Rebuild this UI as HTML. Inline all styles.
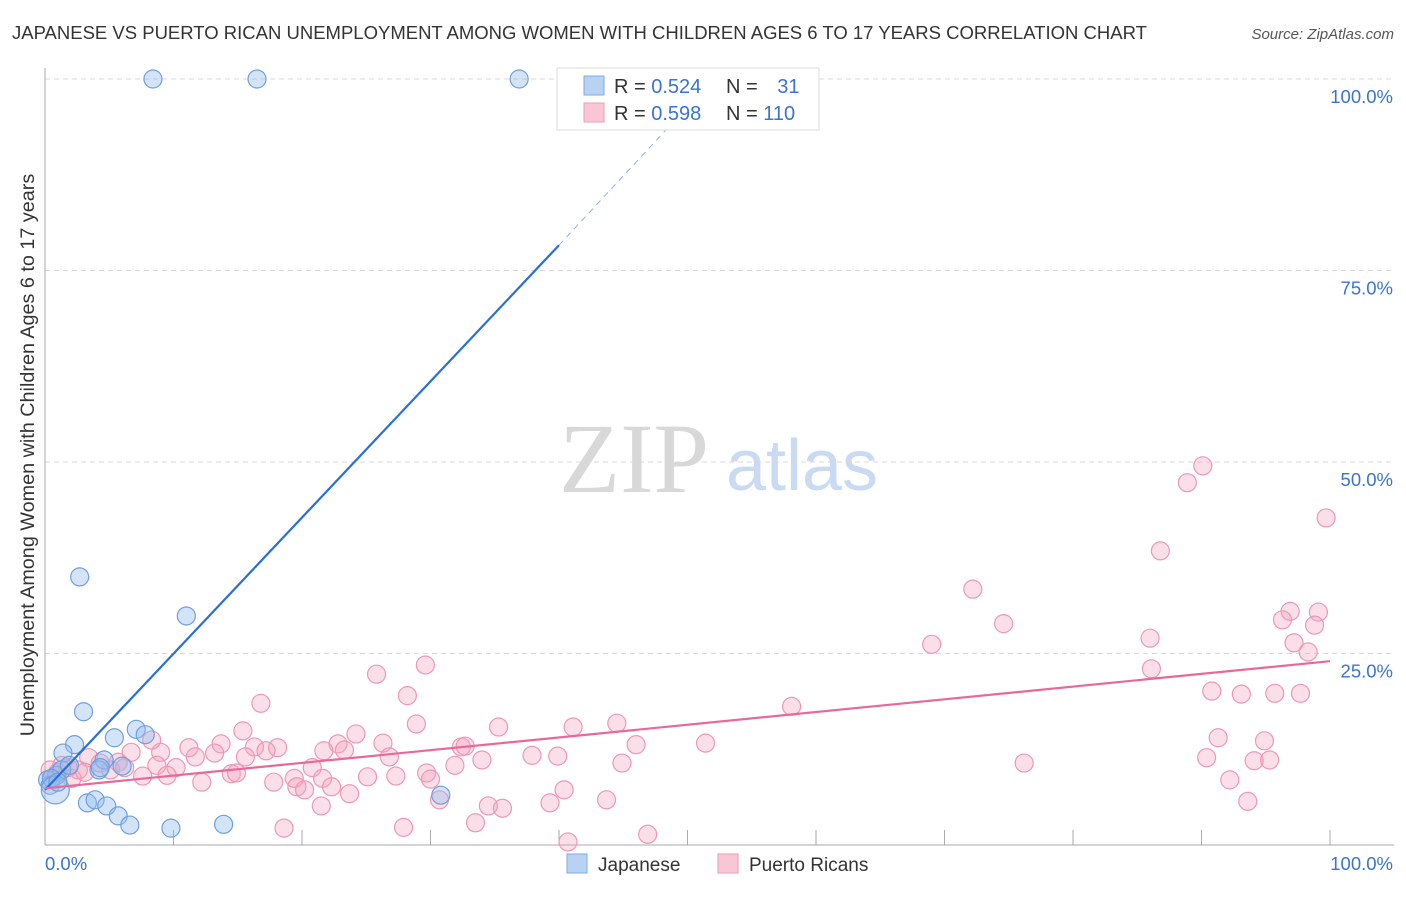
<!DOCTYPE html>
<html><head><meta charset="utf-8"><style>
body{margin:0;background:#fff;font-family:"Liberation Sans",sans-serif;}
svg text{font-family:"Liberation Sans",sans-serif;}
</style></head><body>
<svg id="c" width="1406" height="892" xmlns="http://www.w3.org/2000/svg">
<text x="12" y="39" font-size="18.5" fill="#333">JAPANESE VS PUERTO RICAN UNEMPLOYMENT AMONG WOMEN WITH CHILDREN AGES 6 TO 17 YEARS CORRELATION CHART</text>
<text x="1394" y="39" font-size="15" fill="#555" font-style="italic" text-anchor="end">Source: ZipAtlas.com</text>
<g>
<text x="634" y="492" font-size="100" fill="#d8d8d8" text-anchor="middle" style="font-family:'Liberation Serif',serif">ZIP</text>
<text x="802" y="490" font-size="72" fill="#c9daf2" text-anchor="middle">atlas</text>
</g>
<g id="grid"></g>
<g id="axes"></g>
<g id="marks"></g>
<text transform="translate(34,455) rotate(-90)" font-size="19.8" fill="#333" text-anchor="middle">Unemployment Among Women with Children Ages 6 to 17 years</text>
<g>
<rect x="557" y="68" width="262" height="62" fill="#fff" stroke="#ddd"/>
<rect x="584" y="76" width="20" height="19" fill="#b8d2f4" stroke="#7ea9e2"/>
<rect x="584" y="103" width="20" height="19" fill="#f8c6d5" stroke="#ee9db6"/>
<text x="614" y="93" font-size="20" fill="#333">R = <tspan fill="#3a74cc">0.524</tspan></text>
<text x="726" y="93" font-size="20" fill="#333">N = <tspan fill="#3a74cc" dx="14">31</tspan></text>
<text x="614" y="120" font-size="20" fill="#333">R = <tspan fill="#3a74cc">0.598</tspan></text>
<text x="726" y="120" font-size="20" fill="#333">N = <tspan fill="#3a74cc">110</tspan></text>
</g>
<g>
<rect x="567" y="854" width="20" height="19" fill="#b8d2f4" stroke="#7ea9e2"/>
<text x="598" y="871" font-size="19" fill="#333">Japanese</text>
<rect x="718" y="854" width="20" height="19" fill="#f8c6d5" stroke="#ee9db6"/>
<text x="749" y="871" font-size="19" fill="#333">Puerto Ricans</text>
</g>
</svg>
<script>
const yTicks=[25,50,75,100];
const yTickLabels=["25.0%","50.0%","75.0%","100.0%"];
const xTicks=[10,20,30,40,50,60,70,80,90,100];
const japaneseX=[8.4,16.5,36.9,2.7,11.0,3.0,7.1,7.8,5.4,2.3,1.4,4.6,4.2,6.0,0.9,1.3,0.2,0.4,0.5,3.3,3.9,4.8,5.7,6.6,9.8,13.9,30.8,0.8,1.9,4.3,1.0];
const japaneseY=[100,100,100,35.0,29.9,17.4,15.1,14.4,14.0,13.1,12.0,11.1,9.8,10.3,9.1,9.8,8.5,7.8,8.7,5.5,5.9,5.1,3.8,2.6,2.2,2.7,6.5,7.2,10.4,10.1,8.2];
const puertoX=[90.1,88.9,99.7,86.8,72.2,74.6,96.9,99.1,96.3,98.8,86.0,69.0,97.2,98.3,86.1,90.8,93.1,95.7,97.7,58.1,91.3,94.9,51.4,90.4,94.1,95.3,76.2,92.2,93.6,25.8,29.6,16.8,28.2,28.9,35.3,41.1,44.5,15.4,24.2,22.8,26.3,32.4,32.7,46.0,11.2,13.7,16.3,18.1,21.7,23.3,26.8,8.3,9.0,6.7,11.7,13.2,15.6,17.2,37.9,39.9,34.0,31.9,44.9,8.7,10.2,5.7,3.4,20.8,14.5,14.9,7.6,9.5,12.2,17.8,19.4,21.6,25.1,27.3,29.7,30.0,19.6,20.2,22.3,23.7,40.4,21.5,30.7,34.5,35.6,39.3,43.7,33.5,27.9,18.6,40.7,46.9,0.4,1.0,1.8,2.6,4.3,5.1,6.2,0.5,1.3,2.1,3.1];
const puertoY=[49.5,47.3,42.7,38.4,33.4,28.9,30.5,30.4,29.4,28.7,27.0,26.2,26.4,25.2,23.0,20.1,19.7,19.8,19.8,18.1,14.0,13.6,13.3,11.4,11.0,11.1,10.7,8.5,5.7,22.3,23.5,18.5,19.5,15.8,15.4,15.4,15.9,14.9,14.5,13.2,13.3,12.8,12.9,13.1,12.7,13.2,12.8,12.7,12.3,12.4,11.5,13.7,12.1,12.1,11.5,12.0,11.5,12.3,11.7,11.6,11.1,10.4,10.7,10.4,10.1,10.8,11.4,10.1,9.3,9.4,9.0,9.1,8.2,8.2,8.7,8.7,8.9,9.0,9.4,8.6,7.6,7.2,7.6,6.7,7.2,5.1,5.9,5.1,4.8,5.5,5.9,2.9,2.3,2.2,0.4,1.4,9.8,9.5,10.1,9.8,10.7,9.8,10.1,8.7,10.4,8.7,9.5];
const japTrend=[0,7.2,40,78.3,52,100];
const prTrend=[0,7.4,100,24];

const NS="http://www.w3.org/2000/svg";
const X=v=>45+v*12.85, Y=v=>845-v*7.66;
function mk(t,a,p){const e=document.createElementNS(NS,t);for(const k in a)e.setAttribute(k,a[k]);p.appendChild(e);return e;}
const grid=document.getElementById('grid'),axes=document.getElementById('axes'),marks=document.getElementById('marks');
yTicks.forEach((t,i)=>{
  const l=mk('line',{x1:45,x2:1394,y1:Y(t),y2:Y(t),stroke:'#d8d8d8','stroke-dasharray':'5,4'},grid);
  
  
  const tx=mk('text',{x:1393,y:Y(t)+24,'font-size':18.5,fill:'#3a74cc','text-anchor':'end'},axes);
  tx.textContent=yTickLabels[i];
  
  
});
const ya=mk('line',{x1:45,x2:45,y1:68,y2:845,stroke:'#aaa'},axes);


const xa=mk('line',{x1:45,x2:1394,y1:845,y2:845,stroke:'#aaa'},axes);


xTicks.forEach(t=>{
  const l=mk('line',{x1:X(t),x2:X(t),y1:830,y2:845,stroke:'#aaa'},axes);
  
  
});
const x0=mk('text',{x:45,y:870,'font-size':18.5,fill:'#3a74cc'},axes);x0.textContent='0.0%';


const x1=mk('text',{x:1393,y:870,'font-size':18.5,fill:'#3a74cc','text-anchor':'end'},axes);x1.textContent='100.0%';


puertoX.forEach((v,i)=>{
  const c=mk('circle',{cx:X(v),cy:Y(puertoY[i]),r:9,fill:'rgba(244,163,188,0.35)',stroke:'#ee98b3','stroke-width':1.2},marks);
  
  
});
japaneseX.forEach((v,i)=>{
  const c=mk('circle',{cx:X(v),cy:Y(japaneseY[i]),r:i==27?14:9,fill:'rgba(147,187,238,0.4)',stroke:'#6e9fe0','stroke-width':1.2},marks);
  
  
});
const jl=mk('line',{x1:X(japTrend[0]),y1:Y(japTrend[1]),x2:X(japTrend[2]),y2:Y(japTrend[3]),stroke:'#2a6fd6','stroke-width':2.2},marks);


const jd=mk('line',{x1:X(japTrend[2]),y1:Y(japTrend[3]),x2:X(japTrend[4]),y2:Y(japTrend[5]),stroke:'#8fb3e8','stroke-width':1,'stroke-dasharray':'6,5'},marks);


const pl=mk('line',{x1:X(prTrend[0]),y1:Y(prTrend[1]),x2:X(prTrend[2]),y2:Y(prTrend[3]),stroke:'#e8689a','stroke-width':2.2},marks);


</script>
</body></html>
